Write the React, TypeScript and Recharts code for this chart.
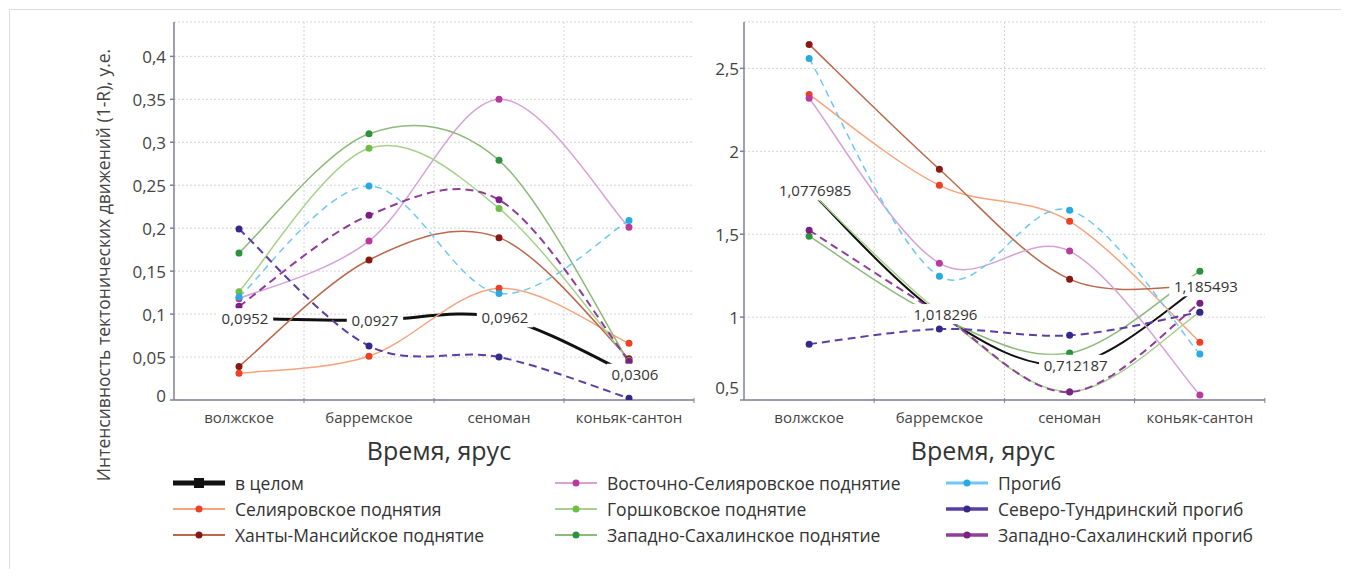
import React from 'react';
import { LineChart, Line, XAxis, YAxis, CartesianGrid, ReferenceLine, LabelList } from 'recharts';

const CATEGORIES = ['волжское', 'барремское', 'сеноман', 'коньяк-сантон'];
const X_POS = [0.5, 1.5, 2.5, 3.5];
const X_BOUNDS = [1, 2, 3];

const SERIES_NAMES = [
  'в целом',
  'Селияровское поднятия',
  'Ханты-Мансийское поднятие',
  'Восточно-Селияровское поднятие',
  'Горшковское поднятие',
  'Западно-Сахалинское поднятие',
  'Прогиб',
  'Северо-Тундринский прогиб',
  'Западно-Сахалинский прогиб',
];

// left panel
const leftTotal = [0.0952, 0.0927, 0.0962, 0.0306];
const leftTotalLabels = ['0,0952', '0,0927', '0,0962', '0,0306'];
const leftSeliyar = [0.031, 0.051, 0.13, 0.066];
const leftKhanty = [0.039, 0.163, 0.189, 0.048];
const leftVostSeliyar = [0.118, 0.185, 0.35, 0.201];
const leftGorshk = [0.126, 0.293, 0.223, 0.046];
const leftZapSakh = [0.171, 0.31, 0.279, 0.044];
const leftProgib = [0.12, 0.249, 0.124, 0.209];
const leftSevTund = [0.199, 0.063, 0.05, 0.002];
const leftZapSakhProgib = [0.109, 0.215, 0.233, 0.045];
const leftTicks = [0, 0.05, 0.1, 0.15, 0.2, 0.25, 0.3, 0.35, 0.4];

// right panel
const rightTotal = [1.765, 1.018296, 0.712187, 1.185493];
const rightTotalLabels = ['1,0776985', '1,018296', '0,712187', '1,185493'];
const rightSeliyar = [2.343, 1.795, 1.578, 0.849];
const rightKhanty = [2.645, 1.892, 1.229, 1.19];
const rightVostSeliyar = [2.32, 1.325, 1.398, 0.53];
const rightGorshk = [1.765, 1.03, 0.55, 1.03];
const rightZapSakh = [1.488, 1.0, 0.783, 1.277];
const rightProgib = [2.56, 1.247, 1.645, 0.777];
const rightSevTund = [0.837, 0.928, 0.89, 1.03];
const rightZapSakhProgib = [1.524, 1.02, 0.548, 1.084];
const rightTicks = [0.5, 1, 1.5, 2, 2.5];

// styles per series (index matches SERIES_NAMES)
const STYLES = [
  { line: '#111111', dot: '#111111', dash: undefined, width: 3 },
  { line: '#f7a47c', dot: '#ee4023', dash: undefined, width: 1.5 },
  { line: '#b9694c', dot: '#8a1712', dash: undefined, width: 1.5 },
  { line: '#d8a2d6', dot: '#b83a9e', dash: undefined, width: 1.5 },
  { line: '#a8d18c', dot: '#6fbe44', dash: undefined, width: 1.5 },
  { line: '#8cba78', dot: '#2c923e', dash: undefined, width: 1.5 },
  { line: '#6ccaf2', dot: '#27a9e1', dash: '7 5', width: 1.5 },
  { line: '#5a3fa2', dot: '#36288a', dash: '8 5', width: 2 },
  { line: '#8f3d98', dot: '#7b1f83', dash: '8 5', width: 2 },
];

const KEYS = ['total', 's1', 's2', 's3', 's4', 's5', 's6', 's7', 's8'];

// Excel-like smoothing (Catmull-Rom through the points)
const smoothCurve: any = (context: any) => {
  let pts: number[][] = [];
  return {
    areaStart() {},
    areaEnd() {},
    lineStart() {
      pts = [];
    },
    point(x: number, y: number) {
      pts.push([+x, +y]);
    },
    lineEnd() {
      const n = pts.length;
      if (!n) return;
      context.moveTo(pts[0][0], pts[0][1]);
      const k = 1 / 6;
      for (let i = 0; i < n - 1; i++) {
        const p0 = pts[Math.max(i - 1, 0)];
        const p1 = pts[i];
        const p2 = pts[i + 1];
        const p3 = pts[Math.min(i + 2, n - 1)];
        context.bezierCurveTo(
          p1[0] + (p2[0] - p0[0]) * k,
          p1[1] + (p2[1] - p0[1]) * k,
          p2[0] - (p3[0] - p1[0]) * k,
          p2[1] - (p3[1] - p1[1]) * k,
          p2[0],
          p2[1]
        );
      }
    },
  };
};

const buildData = (series: number[][], labels: string[]) =>
  CATEGORIES.map((cat, i) => {
    const row: any = { cat, x: X_POS[i], lbl: labels[i] };
    KEYS.forEach((k, j) => (row[k] = series[j][i]));
    return row;
  });

const leftData = buildData(
  [leftTotal, leftSeliyar, leftKhanty, leftVostSeliyar, leftGorshk, leftZapSakh, leftProgib, leftSevTund, leftZapSakhProgib],
  leftTotalLabels
);
const rightData = buildData(
  [rightTotal, rightSeliyar, rightKhanty, rightVostSeliyar, rightGorshk, rightZapSakh, rightProgib, rightSevTund, rightZapSakhProgib],
  rightTotalLabels
);

const fmt = (v: number) => String(v).replace('.', ',');

const TextLabel = (props: any) => {
  const x = (props.x ?? props.viewBox?.x) + 6;
  const y = props.y ?? props.viewBox?.y;
  const text = String(props.value);
  const w = text.length * 8.4 + 6;
  return (
    <g>
      <rect x={x - w / 2} y={y - 10} width={w} height={20} fill="#fff" />
      <text x={x} y={y} textAnchor="middle" dominantBaseline="central" fontSize={15} fill="#333">
        {text}
      </text>
    </g>
  );
};

function Panel({ data, ticks, domain, yWidth, marginLeft, marginRight, width, totalWidth, bottomShift, tickGap, band }: any) {
  const YTick = (p: any) => (
    <text
      x={p.x}
      y={p.payload.value === ticks[0] ? p.y - bottomShift : p.y}
      textAnchor="end"
      dominantBaseline="central"
      fontSize={17}
      fill="#444"
    >
      {fmt(p.payload.value)}
    </text>
  );
  // category label at the band centre, small tick mark at the band's right edge
  const XTick = (p: any) => {
    const idx = X_POS.indexOf(p.payload.value);
    const edge = p.x + band / 2;
    return (
      <g>
        <line x1={edge} x2={edge} y1={p.y - 2} y2={p.y + 3} stroke="#80809c" strokeWidth={1} />
        <text x={p.x} y={p.y + 23} textAnchor="middle" fontSize={15} fill="#444">
          {CATEGORIES[idx]}
        </text>
      </g>
    );
  };
  return (
    <LineChart width={width} height={440} data={data} margin={{ top: 14, right: marginRight, bottom: 12, left: marginLeft }}>
      <CartesianGrid vertical={false} stroke="#d4d4d4" strokeDasharray="2 2" />
      {X_BOUNDS.map((b) => (
        <ReferenceLine key={b} x={b} stroke="#d4d4d4" strokeDasharray="2 2" />
      ))}
      <XAxis
        dataKey="x"
        type="number"
        domain={[0, 4]}
        ticks={X_POS}
        interval={0}
        tick={<XTick />}
        tickLine={false}
        tickSize={0}
        tickMargin={0}
        height={36}
        stroke="#80809c"
        strokeWidth={1.5}
        allowDataOverflow
      />
      <YAxis
        type="number"
        domain={domain}
        ticks={ticks}
        interval={0}
        width={yWidth}
        tickSize={4}
        tickMargin={tickGap}
        stroke="#80809c"
        strokeWidth={1.5}
        tick={<YTick />}
        allowDataOverflow
      />
      {KEYS.map((k, j) => (
        <Line
          key={k}
          dataKey={k}
          name={SERIES_NAMES[j]}
          type={smoothCurve}
          stroke={STYLES[j].line}
          strokeWidth={j === 0 ? totalWidth : STYLES[j].width}
          strokeDasharray={STYLES[j].dash}
          dot={j === 0 ? false : { r: 3.5, fill: STYLES[j].dot, stroke: STYLES[j].dot, strokeWidth: 0 }}
          activeDot={false}
          isAnimationActive={false}
        />
      ))}
      <Line dataKey="total" stroke="none" dot={false} activeDot={false} legendType="none" isAnimationActive={false}>
        <LabelList dataKey="lbl" content={TextLabel} />
      </Line>
    </LineChart>
  );
}

const LEGEND_COLS = [
  { x: 165, iconW: 52, items: [0, 1, 2] },
  { x: 547, iconW: 42, items: [3, 4, 5] },
  { x: 938, iconW: 42, items: [6, 7, 8] },
];
const LEGEND_ROWS = [475, 501, 527];

const LegendIcon = ({ idx, w }: any) => {
  const s = STYLES[idx];
  return (
    <svg width={w} height={14} style={{ display: 'block' }}>
      <line x1={0} y1={7} x2={w} y2={7} stroke={idx === 0 ? '#111' : s.line} strokeWidth={idx === 0 ? 5 : idx >= 6 ? s.width + 1.5 : 2} />
      {idx === 0 ? (
        <rect x={w / 2 - 5} y={2} width={10} height={10} fill="#111" />
      ) : (
        <circle cx={w / 2} cy={7} r={3.5} fill={s.dot} />
      )}
    </svg>
  );
};

export default function App() {
  return (
    <div style={{ position: 'relative', width: 1333, height: 561, fontFamily: '"Open Sans", sans-serif', color: '#333' }}>
      <div
        style={{
          position: 'absolute',
          left: 1,
          top: 1,
          width: 1400,
          height: 600,
          borderLeft: '1.5px solid #dcdcdc',
          borderTop: '1.5px solid #dcdcdc',
        }}
      />
      <div style={{ position: 'absolute', left: 0, top: 0 }}>
        <Panel
          data={leftData}
          ticks={leftTicks}
          domain={[0, 0.44]}
          yWidth={60}
          marginLeft={106}
          marginRight={14}
          width={700}
          totalWidth={3}
          bottomShift={5}
          tickGap={4}
          band={130}
        />
      </div>
      <div style={{ position: 'absolute', left: 692, top: 0 }}>
        <Panel
          data={rightData}
          ticks={rightTicks}
          domain={[0.5, 2.78]}
          yWidth={40}
          marginLeft={4}
          marginRight={15}
          width={580}
          totalWidth={2}
          bottomShift={13}
          tickGap={1}
          band={130}
        />
      </div>
      <div
        style={{
          position: 'absolute',
          left: 95 - 260,
          top: 257 - 12,
          width: 520,
          height: 24,
          lineHeight: '24px',
          textAlign: 'center',
          fontSize: 17.5,
          color: '#444',
          transform: 'rotate(-90deg)',
          whiteSpace: 'nowrap',
        }}
      >
        Интенсивность тектонических движений (1-R), у.е.
      </div>
      <div style={{ position: 'absolute', left: 431 - 150, top: 442 - 18, width: 300, textAlign: 'center', fontSize: 25, lineHeight: '36px' }}>
        Время, ярус
      </div>
      <div style={{ position: 'absolute', left: 975 - 150, top: 442 - 18, width: 300, textAlign: 'center', fontSize: 25, lineHeight: '36px' }}>
        Время, ярус
      </div>
      {LEGEND_COLS.map((col) =>
        col.items.map((idx, r) => (
          <div
            key={idx}
            style={{
              position: 'absolute',
              left: col.x,
              top: LEGEND_ROWS[r] - 12,
              height: 24,
              display: 'flex',
              alignItems: 'center',
              fontSize: 17.5,
              whiteSpace: 'nowrap',
            }}
          >
            <LegendIcon idx={idx} w={col.iconW} />
            <span style={{ marginLeft: 10 }}>{SERIES_NAMES[idx]}</span>
          </div>
        ))
      )}
    </div>
  );
}
